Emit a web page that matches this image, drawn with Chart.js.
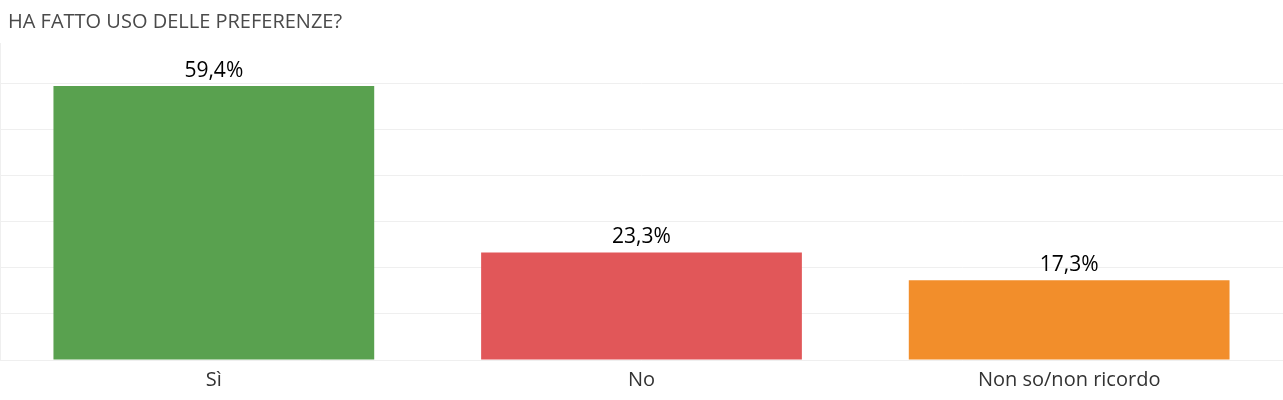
<!DOCTYPE html>
<html>
<head>
<meta charset="utf-8">
<script src="https://cdn.jsdelivr.net/npm/chart.js@4"></script>
<style>
  html, body { margin: 0; padding: 0; background: #fff; }
  #wrap { width: 1283px; height: 400px; position: relative; }
</style>
</head>
<body>
<div id="wrap"><canvas id="chart"></canvas></div>
<script>
var categories = ["Sì", "No", "Non so/non ricordo"];
var values = [59.4, 23.3, 17.3];
var colors = ["#59A14F", "#E15759", "#F28E2B"];
var titleText = "HA FATTO USO DELLE PREFERENZE?";

var FONT = "'Open Sans', 'Noto Sans', sans-serif";

// percent labels above each bar
var valueLabels = {
  id: "valueLabels",
  afterDatasetsDraw: function (chart) {
    var ctx = chart.ctx;
    var meta = chart.getDatasetMeta(0);
    ctx.save();
    ctx.font = "21px " + FONT;
    ctx.fillStyle = "#000";
    ctx.textAlign = "center";
    ctx.textBaseline = "alphabetic";
    meta.data.forEach(function (bar, i) {
      var txt = values[i].toFixed(1).replace(".", ",") + "%";
      ctx.fillText(txt, bar.x, bar.y - 9);
    });
    ctx.restore();
  }
};

// title at top-left + faint left border of the plot
var frame = {
  id: "frame",
  beforeDatasetsDraw: function (chart) {
    var a = chart.chartArea;
    var ctx = chart.ctx;
    ctx.save();
    ctx.strokeStyle = "#efefef";
    ctx.lineWidth = 1;
    ctx.beginPath();
    ctx.moveTo(a.left + 0.5, a.top);
    ctx.lineTo(a.left + 0.5, a.bottom);
    ctx.stroke();
    ctx.font = "20px " + FONT;
    ctx.fillStyle = "#4a4a4a";
    ctx.textAlign = "left";
    ctx.textBaseline = "alphabetic";
    ctx.fillText(titleText, 8, 28);
    ctx.restore();
  }
};

new Chart(document.getElementById("chart"), {
  type: "bar",
  data: {
    labels: categories,
    datasets: [{
      data: values,
      backgroundColor: colors,
      barPercentage: 0.75,
      categoryPercentage: 1.0
    }]
  },
  options: {
    responsive: true,
    maintainAspectRatio: false,
    animation: false,
    layout: { padding: { left: 0, right: 0, top: 43, bottom: 0 } },
    plugins: {
      legend: { display: false },
      tooltip: { enabled: false },
      title: { display: false }
    },
    scales: {
      x: {
        grid: { display: false, drawTicks: false },
        border: { display: false },
        ticks: { color: "#333", font: { family: FONT, size: 20 }, padding: 8 }
      },
      y: {
        min: 0,
        max: 68.7,
        afterBuildTicks: function (axis) {
          axis.ticks = [0, 10, 20, 30, 40, 50, 60].map(function (v) { return { value: v }; });
        },
        grid: { color: "#efefef", drawTicks: false },
        border: { display: false },
        ticks: { display: false }
      }
    }
  },
  plugins: [valueLabels, frame]
});
</script>
</body>
</html>
